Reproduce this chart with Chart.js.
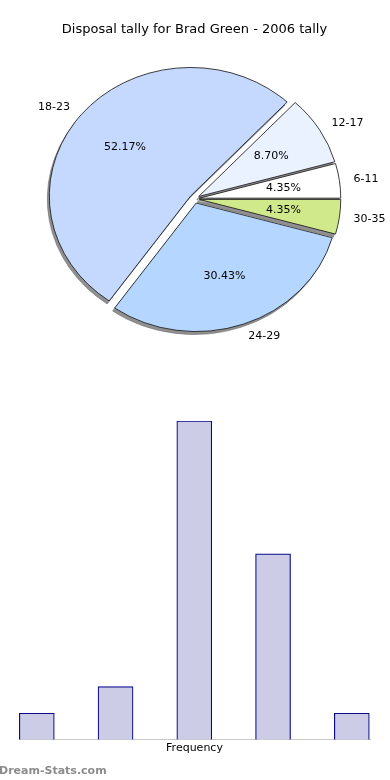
<!DOCTYPE html>
<html>
<head>
<meta charset="utf-8">
<script src="https://cdn.jsdelivr.net/npm/chart.js@4.4.1/dist/chart.umd.min.js"></script>
<style>
  body { margin: 0; background: #fff; width: 390px; height: 780px; overflow: hidden; position: relative; }
  #pieChart { position: absolute; left: 0; top: 0; }
  #barChart { position: absolute; left: 0; top: 370px; }
  #brand { position: absolute; left: -1px; top: 764px; font: bold 11px "DejaVu Sans", sans-serif; color: #8c8c8c; }
</style>
</head>
<body>
<canvas id="pieChart" width="390" height="370"></canvas>
<canvas id="barChart" width="390" height="410"></canvas>
<div id="brand">Dream-Stats.com</div>
<script>
const chartTitle = "Disposal tally for Brad Green - 2006 tally";
const ageBands = ["6-11", "12-17", "18-23", "24-29", "30-35"];
const tally = [1, 2, 12, 7, 1];
const sliceColours = ["#ffffff", "#eaf1ff", "#c5d9ff", "#b5d6ff", "#cfe98b"];
const axisTitle = "Frequency";

// pie goes counter-clockwise from 3 o'clock in the original, chart.js goes clockwise
const pieOrder = [4, 3, 2, 1, 0];
const stretchX = 1.1;
const explodePx = 4.5;
const total = tally.reduce((a, b) => a + b, 0);

function ellipse(ctx, x, y, dx, dy) {
  ctx.translate(x + dx, y + dy);
  ctx.scale(stretchX, 1);
  ctx.translate(-x, -y);
}

function drawArcs(ctx, arcs, shadow) {
  arcs.forEach(arc => {
    const mid = (arc.startAngle + arc.endAngle) / 2;
    ctx.save();
    ctx.translate(Math.cos(mid) * explodePx, Math.sin(mid) * explodePx);
    if (shadow) {
      const saved = arc.options;
      arc.options = Object.assign(Object.create(saved), {
        backgroundColor: "#909090", borderColor: "#707070", borderWidth: 0.6
      });
      arc.draw(ctx);
      arc.options = saved;
    } else {
      arc.draw(ctx);
    }
    ctx.restore();
  });
}

const pieLabels = {
  id: "pieLabels",
  beforeDatasetDraw(chart) {
    const ctx = chart.ctx;
    const arcs = chart.getDatasetMeta(0).data;
    const cx = arcs[0].x, cy = arcs[0].y;
    ctx.save();
    ellipse(ctx, cx, cy, -2, 3);
    drawArcs(ctx, arcs, true);
    ctx.restore();
    ctx.save();
    ellipse(ctx, cx, cy, 0, 0);
    drawArcs(ctx, arcs, false);
    ctx.restore();
    return false;
  },
  afterDatasetsDraw(chart) {
    const ctx = chart.ctx;
    const meta = chart.getDatasetMeta(0);
    const labels = chart.data.labels;
    const values = chart.data.datasets[0].data;
    ctx.save();
    ctx.fillStyle = "#000";
    ctx.font = "11px 'DejaVu Sans'";
    ctx.textBaseline = "middle";
    meta.data.forEach((arc, i) => {
      const mid = (arc.startAngle + arc.endAngle) / 2;
      const r = arc.outerRadius;
      const at = (k) => [arc.x + stretchX * Math.cos(mid) * (k * r + explodePx), arc.y + Math.sin(mid) * (k * r + explodePx)];
      let [lx, ly] = at(1.1);
      ctx.textAlign = Math.cos(mid) > 0 ? "left" : "right";
      ctx.fillText(labels[i], lx, ly);
      let [px, py] = at(0.6);
      ctx.textAlign = "center";
      ctx.fillText((values[i] / total * 100).toFixed(2) + "%", px, py);
    });
    ctx.restore();
  }
};

new Chart(document.getElementById("pieChart"), {
  type: "pie",
  data: {
    labels: pieOrder.map(i => ageBands[i]),
    datasets: [{
      data: pieOrder.map(i => tally[i]),
      backgroundColor: pieOrder.map(i => sliceColours[i]),
      borderColor: "#1a1a1a",
      borderWidth: 0.8,
      radius: 128.5,
      rotation: 90,
      clip: false
    }]
  },
  options: {
    responsive: false,
    animation: false,
    events: [],
    layout: { padding: { left: 40, right: 41, top: 0, bottom: 20 } },
    plugins: {
      legend: { display: false },
      tooltip: { enabled: false },
      title: {
        display: true,
        text: chartTitle,
        color: "#000",
        font: { family: "DejaVu Sans", size: 13, weight: "normal" },
        padding: { top: 22, bottom: 10 }
      }
    }
  },
  plugins: [pieLabels]
});

new Chart(document.getElementById("barChart"), {
  type: "bar",
  data: {
    labels: ageBands,
    datasets: [{
      data: tally.map((v, i) => ({ x: i, y: v })),
      backgroundColor: "#ccccE6",
      borderColor: "#0a0a8a",
      borderWidth: 1.2,
      barThickness: 35
    }]
  },
  options: {
    responsive: false,
    animation: false,
    events: [],
    layout: { padding: { left: 19, right: 20, top: 51, bottom: 0 } },
    plugins: { legend: { display: false }, tooltip: { enabled: false } },
    scales: {
      x: {
        type: "linear",
        offset: false,
        min: -0.226,
        max: 4.231,
        ticks: { display: false },
        grid: { display: false, drawTicks: false },
        border: { display: true, color: "#c8c8c8", dash: [1, 2] },
        title: {
          display: true,
          text: axisTitle,
          color: "#000",
          font: { family: "DejaVu Sans", size: 11 },
          padding: { top: 2, bottom: 25 }
        }
      },
      y: { display: false, min: 0, max: 12 }
    }
  }
});
</script>
</body>
</html>
